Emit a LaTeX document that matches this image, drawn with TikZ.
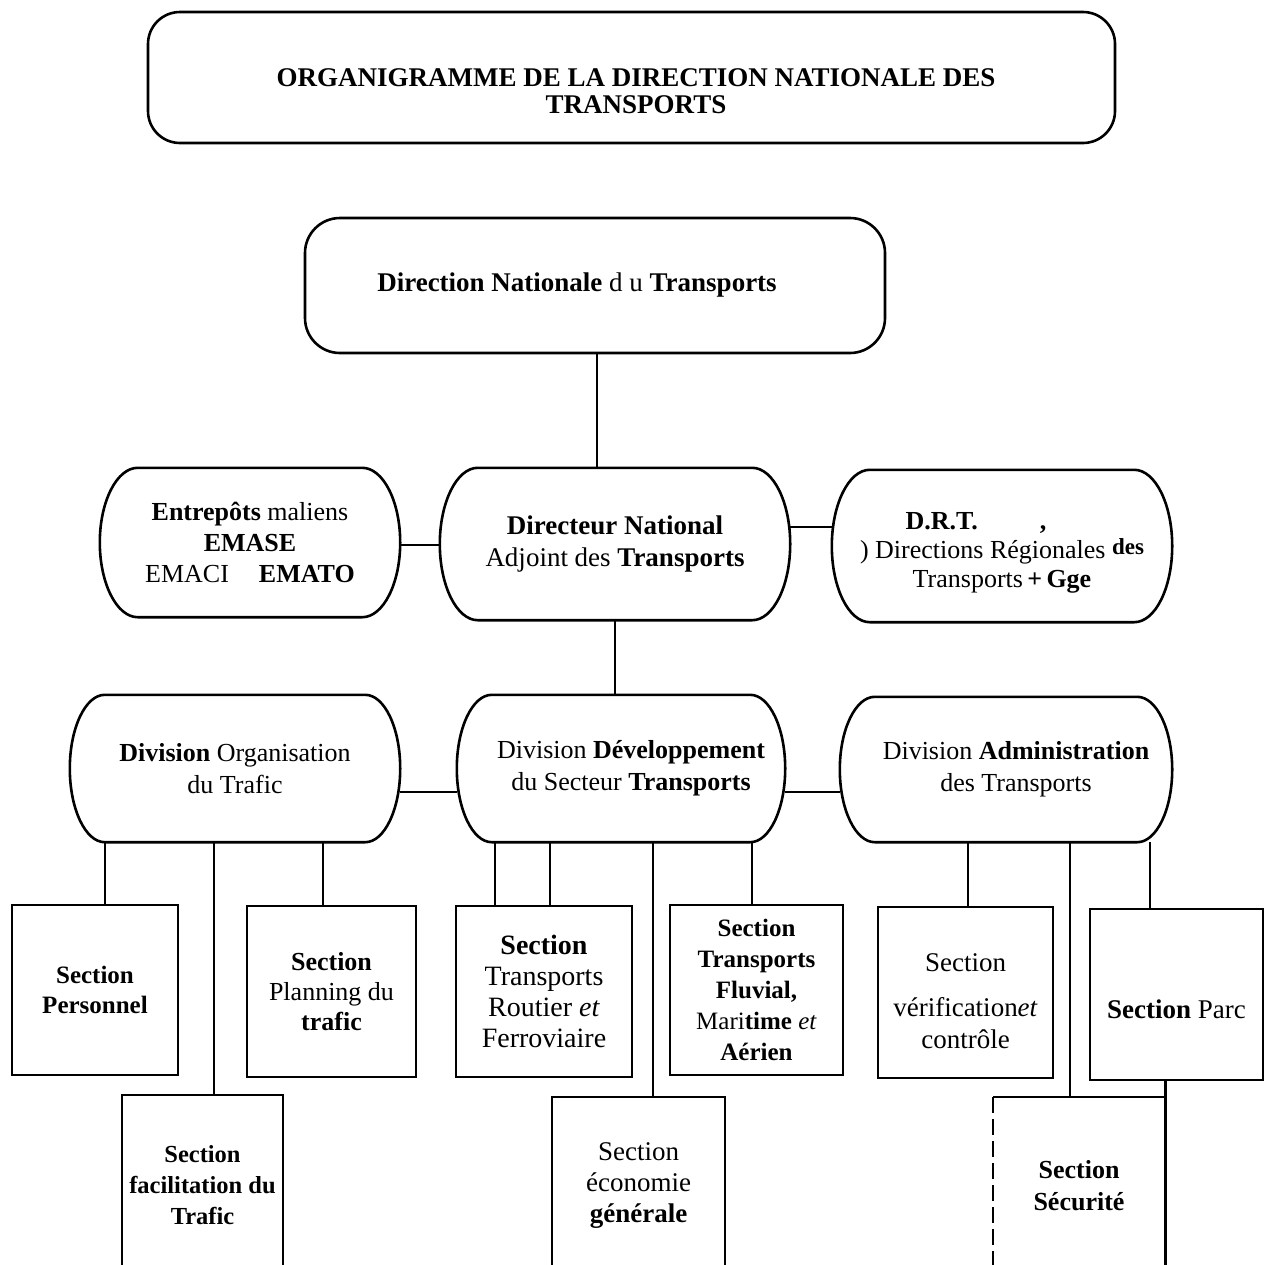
\documentclass[tikz,border=0pt]{standalone}
\usepackage{fontspec}
\setmainfont{Liberation Serif}
\usetikzlibrary{calc}

\newcommand\fsz[2]{\fontsize{#1}{#2}\selectfont}

% outline with straight top/bottom and bulging elliptic sides
% #1 node, #2 horizontal inset, #3 half height
\newcommand\pillline[3]{%
  \draw[edge] ($(#1.north west)+(#2,0)$) -- ($(#1.north east)+(-#2,0)$)
    .. controls +(0.552*#2,0) and +(0,-0.552*#3) .. (#1.east)
    .. controls +(0,0.552*#3) and +(0.552*#2,0) .. ($(#1.south east)+(-#2,0)$)
    -- ($(#1.south west)+(#2,0)$)
    .. controls +(-0.552*#2,0) and +(0,0.552*#3) .. (#1.west)
    .. controls +(0,-0.552*#3) and +(-0.552*#2,0) .. ($(#1.north west)+(#2,0)$)
    -- cycle;}

\tikzset{
  edge/.style={line width=2.6pt},
  pill/.style={inner sep=0pt, align=center},
  sect/.style={draw, line width=2.6pt, inner sep=0pt, align=center},
  txt/.style={inner sep=0pt, align=center},
}

\begin{document}
\begin{tikzpicture}[x=1pt, y=-1pt]
\useasboundingbox (0,0) rectangle (1265,1264);
\clip (0,0) rectangle (1265,1264);
\fill[white] (0,0) rectangle (1265,1264);

% ---- title ----
\node[draw, edge, rounded corners=32pt, minimum width=967, minimum height=131] (titlebox) at (631.5,77.5) {};
\node[txt, font=\bfseries\fsz{27}{27}] (titletext) at (636,91)
  {ORGANIGRAMME DE LA DIRECTION NATIONALE DES\\TRANSPORTS};

% ---- direction ----
\node[draw, edge, rounded corners=35pt, minimum width=580, minimum height=135, font=\fsz{27}{30}] (dn) at (595,285.5)
  {\hspace*{-36pt}\textbf{Direction Nationale} d u \textbf{Transports}};

% ---- second level ----
\node[pill, minimum width=300, minimum height=149, font=\fsz{26}{31}] (ent) at (250,542.5)
  {\textbf{Entrepôts} maliens\\\textbf{EMASE}\\EMACI\hspace{30pt}\textbf{EMATO}};
\pillline{ent}{38}{74.5}

\node[pill, minimum width=350, minimum height=152, font=\fsz{27}{32}] (dir) at (615,544)
  {\textbf{Directeur National}\\Adjoint des \textbf{Transports}};
\pillline{dir}{38}{76}

\node[pill, minimum width=340, minimum height=152,
      label={[txt, name=drttext, yshift=-7pt, font=\fsz{26}{29}]center:{%
        \hspace*{-52pt}\textbf{D.R.T.}\hspace{62pt}\textbf{,}\\
        ) Directions Régionales \raisebox{4pt}{\textbf{\fsz{23}{23}des}}\\
        Transports\,\textbf{+}\,\textbf{Gge}}}] (drt) at (1002,546) {};
\pillline{drt}{38}{76}

% ---- divisions ----
\node[pill, minimum width=330, minimum height=147, font=\fsz{26}{32}] (dorg) at (235,768.5)
  {\textbf{Division} Organisation\\du Trafic};
\pillline{dorg}{35}{73.5}

\node[pill, minimum width=328, minimum height=147, font=\fsz{26}{32}] (ddev) at (621,768.5)
  {\hspace*{20pt}Division \textbf{Développement}\\\hspace*{20pt}du Secteur \textbf{Transports}};
\pillline{ddev}{35}{73.5}

\node[pill, minimum width=332, minimum height=145, font=\fsz{26}{32}] (dadm) at (1006,769.5)
  {\hspace*{20pt}Division \textbf{Administration}\\\hspace*{20pt}des Transports};
\pillline{dadm}{35}{72.5}

% ---- sections ----
\node[sect, minimum width=166, minimum height=170, font=\bfseries\fsz{25}{30}] (sper) at (95,990)
  {Section\\Personnel};
\node[sect, minimum width=169, minimum height=171, font=\fsz{26}{30}] (splan) at (331.5,991.5)
  {\textbf{Section}\\Planning du\\\textbf{trafic}};
\node[sect, minimum width=161, minimum height=180, font=\bfseries\fsz{24.5}{31}] (sfac) at (202.5,1185)
  {Section\\facilitation du\\Trafic};
\node[sect, minimum width=176, minimum height=171, font=\fsz{28}{31}] (srout) at (544,991.5)
  {\textbf{Section}\\Transports\\Routier \textit{et}\\Ferroviaire};
\node[sect, minimum width=173, minimum height=170, font=\fsz{25}{31}] (sflu) at (756.5,990)
  {\textbf{Section}\\\textbf{Transports}\\\textbf{Fluvial,}\\Mari\textbf{time} \textit{et}\\\textbf{Aérien}};
\node[sect, minimum width=173, minimum height=178, font=\fsz{27}{31}] (seco) at (638.5,1186)
  {Section\\économie\\\textbf{générale}};
\node[sect, minimum width=175, minimum height=171,
      label={[txt, name=svertext, yshift=-9pt, font=\fsz{27}{32}]center:{%
        Section\\[13pt]vérification\textit{et}\\contrôle}}] (sver) at (965.5,992.5) {};
\node[sect, minimum width=173, minimum height=171,
      label={[txt, name=sparctext, yshift=-15pt, font=\fsz{27}{31}]center:{%
        \textbf{Section} Parc}}] (sparc) at (1176.5,994.5) {};
\node[inner sep=0pt, minimum width=172, minimum height=178, font=\bfseries\fsz{26}{32}, align=center] (ssec) at (1079,1186)
  {Section\\Sécurité};
\draw[edge] (ssec.north west) -- (ssec.north east) -- (ssec.south east);
\draw[edge, dash pattern=on 16pt off 6pt] (ssec.north west) -- (ssec.south west);

% ---- connector columns ----
\coordinate (xdn)  at (597,0);
\coordinate (y1)   at (0,545);
\coordinate (y2)   at (0,527);
\coordinate (y3)   at (0,792);
\coordinate (xa)   at (105,0);
\coordinate (xb)   at (214,0);
\coordinate (xc)   at (323,0);
\coordinate (xd)   at (495,0);
\coordinate (xe)   at (550,0);
\coordinate (xf)   at (653,0);
\coordinate (xg)   at (752,0);
\coordinate (xh)   at (968,0);
\coordinate (xi)   at (1070,0);
\coordinate (xj)   at (1150,0);

% ---- connectors ----
\draw[edge] (dn.south -| xdn) -- (dir.north -| xdn);
\draw[edge] (ent.east |- y1) -- (dir.west |- y1);
\draw[edge] (dir.east |- y2) -- (drt.west |- y2);
\draw[edge] (dir.south) -- (dir.south |- ddev.north);
\draw[edge] (dorg.east |- y3) -- (ddev.west |- y3);
\draw[edge] (ddev.east |- y3) -- (dadm.west |- y3);

\draw[edge] (dorg.south -| xa) -- (sper.north -| xa);
\draw[edge] (dorg.south -| xb) -- (sfac.north -| xb);
\draw[edge] (dorg.south -| xc) -- (splan.north -| xc);
\draw[edge] (ddev.south -| xd) -- (srout.north -| xd);
\draw[edge] (ddev.south -| xe) -- (srout.north -| xe);
\draw[edge] (ddev.south -| xf) -- (seco.north -| xf);
\draw[edge] (ddev.south -| xg) -- (sflu.north -| xg);
\draw[edge] (dadm.south -| xh) -- (sver.north -| xh);
\draw[edge] (dadm.south -| xi) -- (ssec.north -| xi);
\draw[edge] (dadm.south -| xj) -- (sparc.north -| xj);
\draw[edge] (sparc.south -| ssec.north east) -- (ssec.north east);
\end{tikzpicture}
\end{document}
